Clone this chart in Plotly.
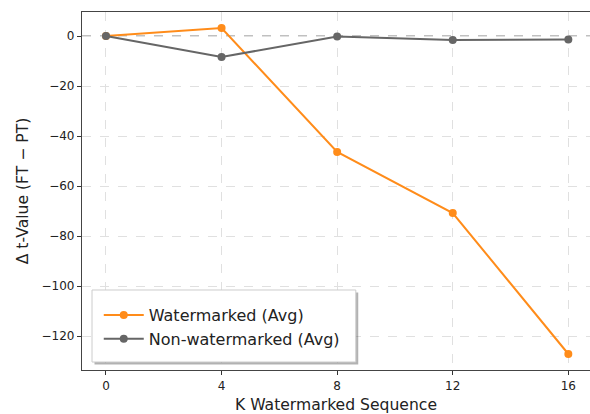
import plotly.graph_objects as go

k_values = [0, 4, 8, 12, 16]
watermarked = [0, 3.2, -46.4, -70.8, -127.2]
non_watermarked = [0, -8.4, -0.2, -1.6, -1.4]
x_ticks = [0, 4, 8, 12, 16]
y_ticks = [0, -20, -40, -60, -80, -100, -120]
y_tick_text = ["0", "\u221220", "\u221240", "\u221260", "\u221280", "\u2212100", "\u2212120"]

ORANGE = "#ff8c1a"
GRAY = "#666666"

fig = go.Figure()
fig.add_trace(go.Scatter(x=k_values, y=watermarked, mode="lines+markers",
                         name="Watermarked (Avg)",
                         line=dict(color=ORANGE, width=2),
                         marker=dict(color=ORANGE, size=8)))
fig.add_trace(go.Scatter(x=k_values, y=non_watermarked, mode="lines+markers",
                         name="Non-watermarked (Avg)",
                         line=dict(color=GRAY, width=2.2),
                         marker=dict(color=GRAY, size=8)))

fig.add_hline(y=0, line=dict(color="#808080", width=1, dash="dash"), layer="below")

# legend frame with shadow (paper coords of plot area 508 x 358 px)
fig.add_shape(type="rect", xref="paper", yref="paper",
              x0=0.0246, x1=0.5438, y0=0.0153, y1=0.2165,
              fillcolor="rgba(0,0,0,0.3)", line=dict(width=0), layer="above")
fig.add_shape(type="rect", xref="paper", yref="paper",
              x0=0.0197, x1=0.539, y0=0.0223, y1=0.2235,
              fillcolor="white", line=dict(color="#cccccc", width=1), layer="above")

fig.update_layout(
    width=590, height=414,
    margin=dict(l=82, r=0, t=12, b=44),
    plot_bgcolor="white", paper_bgcolor="white",
    font=dict(family="DejaVu Sans", size=12, color="#222222"),
    showlegend=True,
    legend=dict(x=0.033, y=0.12, xanchor="left", yanchor="middle",
                bgcolor="rgba(0,0,0,0)", borderwidth=0,
                font=dict(size=16, color="#222222"),
                tracegroupgap=0, itemwidth=40),
    xaxis=dict(range=[-0.83, 16.75], tickvals=x_ticks, ticks="outside", ticklen=4,
               tickcolor="#333333", showline=True, linecolor="#444444", linewidth=1.2,
               mirror=True, showgrid=True, gridcolor="#e0e0e0", griddash="dash",
               zeroline=False,
               title=dict(text="K Watermarked Sequence", font=dict(size=15.6), standoff=8)),
    yaxis=dict(range=[-133.6, 9.6], tickvals=y_ticks, ticktext=y_tick_text,
               ticks="outside", ticklen=4, tickcolor="#333333",
               showline=True, linecolor="#444444", linewidth=1.2,
               showgrid=True, gridcolor="#e0e0e0", griddash="dash", zeroline=False,
               title=dict(text="\u0394 t-Value (FT \u2212 PT)", font=dict(size=15.6), standoff=9)),
)

fig.write_html("out.html")
